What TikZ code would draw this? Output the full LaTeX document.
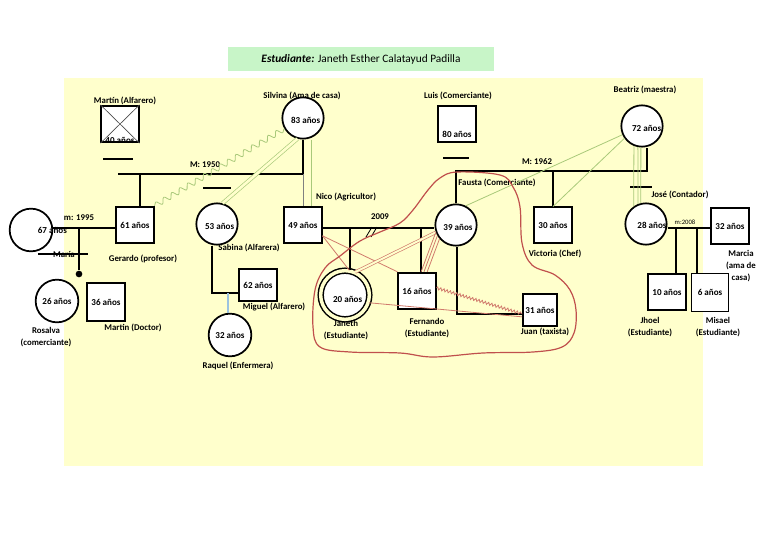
\documentclass[tikz,border=0pt]{standalone}
\usepackage{fontspec}
\setmainfont{Carlito}
\usepackage{tikz}
\usetikzlibrary{decorations.pathmorphing, positioning}
\definecolor{bgyellow}{HTML}{FFFFCC}
\definecolor{titlegreen}{HTML}{C8F5C8}
\definecolor{kingreen}{HTML}{A9C97A}
\definecolor{relred}{HTML}{D07A6C}
\definecolor{loopred}{HTML}{C0504D}
\definecolor{childblue}{HTML}{9CC3E0}
\tikzset{
  person/.style = {draw=black, fill=white, inner sep=0pt,
    font=\bfseries\fontsize{6.8}{8}\selectfont, line width=1.3pt},
  male/.style = {person, rectangle, minimum width=28pt, minimum height=27.5pt},
  fem/.style = {person, circle, minimum size=31pt},
  tag/.style = {align=center, inner sep=0pt, font=\bfseries\fontsize{6.6}{9}\selectfont},
  age/.style = {inner sep=0pt, font=\bfseries\fontsize{6.8}{8}\selectfont},
  bond/.style = {draw=black, line width=0.9pt},
  closebond/.style = {draw=kingreen, double=bgyellow, double distance=2pt, line width=0.5pt},
  tie/.style = {draw=kingreen, line width=0.6pt},
  rel/.style = {draw=relred, line width=0.6pt}
}

\begin{document}
\begin{tikzpicture}[x=0.75pt, y=-0.75pt]
\useasboundingbox (0,0) rectangle (768,543);
\fill[bgyellow] (64,78) rectangle (703,466);
\node[fill=titlegreen, minimum width=199.5pt, minimum height=18pt,
  font=\fontsize{8.5}{10}\selectfont] (title) at (361,59)
  {\textbf{\textit{Estudiante:}} Janeth Esther Calatayud Padilla};

\node[male, label={[age, yshift=-12.5pt]center:40 años}] (martina) at (120,124) {};
\node[male] (gerardo) at (135,225) {61 años};
\node[fem, minimum size=32pt, label={[age, xshift=16pt]center:67 años}] (maria) at (31,230) {};
\node[circle, fill=black, inner sep=0pt, minimum size=5pt] (dot) at (79,274) {};
\node[fem, minimum size=32pt] (rosalva) at (57,301) {26 años};
\node[male, minimum width=29pt, minimum height=28pt] (martind) at (106,302) {36 años};
\node[fem, label={[age, xshift=2pt, yshift=-2pt]center:83 años}] (silvina) at (303,118) {};
\node[fem, label={[age, xshift=2pt, yshift=-2pt]center:53 años}] (sabina) at (217,224) {};
\node[male] (nico) at (303,225) {49 años};
\node[male, minimum height=24.5pt] (miguel) at (258,285) {62 años};
\node[fem, minimum size=32pt] (raquel) at (230,335) {32 años};
\node[male, label={[age, yshift=-7.5pt]center:80 años}] (luis) at (457,124) {};
\node[fem, label={[age, xshift=1.5pt, yshift=-2pt]center:39 años}] (fausta) at (456,225) {};
\node[male, minimum height=26.5pt] (victoria) at (553,225) {30 años};
\node[fem, label={[age, xshift=3.5pt, yshift=-1.5pt]center:72 años}] (beatriz) at (642,126) {};
\node[fem, label={[age, xshift=4.5pt, yshift=-1pt]center:28 años}] (hija) at (646,224) {};
\node[male] (marcia) at (730,226) {32 años};
\node[male] (jhoel) at (667,292) {10 años};
\node[male, line width=0.7pt, minimum width=28pt, minimum height=28.5pt] (misael) at (710,292) {6 años};
\node[fem, minimum size=36.5pt, line width=1.1pt, double=bgyellow, double distance=2.6pt,
  label={[age, xshift=2pt, yshift=-3.5pt]center:20 años}] (janeth) at (345,295) {};
\node[male] (fernando) at (417,291) {16 años};
\node[male, minimum width=25.5pt, minimum height=24pt] (juan) at (540,310) {31 años};

\node[tag] (tmartina) at (125,101) {Martín (Alfarero)};
\node[tag] (tgerardo) at (143,259) {Gerardo (profesor)};
\node[tag] (tmaria) at (64,254) {María};
\node[tag] (t95) at (79,218) {m: 1995};
\node[tag] (trosalva) at (46,337) {Rosalva\\(comerciante)};
\node[tag] (tmartind) at (133,328) {Martin (Doctor)};
\node[tag] (t50) at (205,165) {M: 1950};
\node[tag] (tsilvina) at (302,96) {Silvina (Ama de casa)};
\node[tag] (tsabina) at (249,248) {Sabina (Alfarera)};
\node[tag] (tnico) at (346,197) {Nico (Agricultor)};
\node[tag] (tmiguel) at (274,307) {Miguel (Alfarero)};
\node[tag] (traquel) at (238,366) {Raquel (Enfermera)};
\node[tag] (tluis) at (458,96) {Luis (Comerciante)};
\node[tag] (t09) at (380,217) {2009};
\node[tag] (tfausta) at (497,183) {Fausta (Comerciante)};
\node[tag] (t62) at (537,162) {M: 1962};
\node[tag] (tvictoria) at (555,254) {Victoria (Chef)};
\node[tag] (tbeatriz) at (645,90) {Beatriz (maestra)};
\node[tag] (tjose) at (680,195) {José (Contador)};
\node[tag, font=\fontsize{5}{6}\selectfont] (t08) at (685,222) {m:2008};
\node[tag] (tmarcia) at (741,266) {Marcia\\(ama de\\casa)};
\node[tag] (tjhoel) at (650,327) {Jhoel\\(Estudiante)};
\node[tag] (tmisael) at (718,327) {Misael\\(Estudiante)};
\node[tag] (tjaneth) at (346,330) {Janeth\\(Estudiante)};
\node[tag] (tfernando) at (427,328) {Fernando\\(Estudiante)};
\node[tag] (tjuan) at (545,332) {Juan (taxista)};

\coordinate (m50l) at (118,174);
\coordinate (m50r) at (303,174);
\coordinate (m50g) at (140,174);
\coordinate (m95) at (79,228);
\coordinate (s62) at (212,293);
\coordinate (q32) at (228,293);
\coordinate (m62l) at (456,171);
\coordinate (m62r) at (647,171);
\coordinate (m09) at (371,228);
\coordinate (div) at (369,232);
\coordinate (cj) at (350,228);
\coordinate (cf) at (421,228);
\coordinate (cu) at (457,314);
\coordinate (m08a) at (676,228);
\coordinate (m08b) at (697,228);
\coordinate (ln1a) at (103,159); \coordinate (ln1b) at (133,159);
\coordinate (ln2a) at (203,188); \coordinate (ln2b) at (231,188);
\coordinate (ln3a) at (443,158); \coordinate (ln3b) at (469,158);
\coordinate (ln4a) at (630,187); \coordinate (ln4b) at (652,187);
\coordinate (ln5a) at (38,254); \coordinate (ln5b) at (88,254);

\draw[line width=0.5pt, black!70] (martina.north west) -- (martina.south east)
  (martina.north east) -- (martina.south west);
\draw[bond] (m50l) -- (m50r) -- (silvina.south);
\draw[bond] (m50g) -- (m50g |- gerardo.north);
\draw[gray, line width=0.5pt] (m50r) -- (nico.north);
\draw[closebond] ([xshift=5pt]silvina.south) -- ([xshift=5pt]nico.north);
\draw[closebond] (silvina.255) -- (sabina.75);
\draw[tie, decorate, decoration={snake, amplitude=2pt, segment length=7pt}]
  (gerardo.north east) -- (silvina.210);
\draw[bond] (maria.east |- m95) -- (m95 -| gerardo.west);
\draw[bond] (m95) -- (dot);
\foreach \n in {1,...,5}
  \draw[bond] (ln\n a) -- (ln\n b);
\draw[bond] (s62 |- sabina.south) -- (s62) -- (s62 -| miguel.west);
\draw[childblue, line width=0.8pt] (q32) -- (q32 |- raquel.north);
\draw[bond] (fausta.north) -- (m62l) -- (m62r) -- (m62r |- beatriz.south);
\draw[bond] (m62l -| victoria.north) -- (victoria.north);
\draw[tie] (fausta.63) -- (beatriz.204);
\draw[tie] (beatriz.215) -- (victoria.north);
\foreach \a/\b in {248/125, 259/112, 267/104}
  \draw[tie] (beatriz.\a) -- (hija.\b);
\draw[bond] (hija.east |- m08a) -- (m08a -| marcia.west);
\draw[bond] (m08a) -- (m08a |- jhoel.north);
\draw[bond] (m08b) -- (m08b |- misael.north);
\draw[bond] (nico.east |- m09) -- (m09 -| fausta.west);
\draw[bond, line width=0.6pt] (div) ++(-3,5) -- ++(6,-10) (div) ++(2,5) -- ++(6,-10);
\draw[bond] (cj) -- (cj |- janeth.north);
\draw[bond] (cf) -- (cf |- fernando.north);
\draw[bond] (cu |- fausta.south) -- (cu) -- (cu -| juan.west);

\draw[rel] (nico.-29) -- (janeth.80);
\draw[rel] (nico.-29) -- (fernando.north west);
\draw[rel, double=bgyellow, double distance=1.5pt, line width=0.5pt] (fausta.200) -- (janeth.66);
\foreach \a/\b in {200/78, 210/70, 220/62}
  \draw[rel] (fausta.\a) -- (fernando.\b);
\draw[rel] (janeth.-18) -- (juan.201);
\draw[rel, decorate, decoration={zigzag, amplitude=1pt, segment length=2.5pt}]
  (fernando.9) -- (juan.192);

\draw[loopred, line width=0.9pt] plot[smooth cycle, tension=0.6] coordinates {
  (457,172) (500,175) (513,187) (520,207) (522,243) (532,265) (555,275)
  (570,290) (576,310) (574,333) (562,347) (533,352) (483,353) (433,357)
  (400,353) (350,352) (320,347) (313,327) (315,290) (325,268) (340,256)
  (360,241) (380,232) (400,223) (413,210) (428,190) (440,178)};
\end{tikzpicture}
\end{document}
